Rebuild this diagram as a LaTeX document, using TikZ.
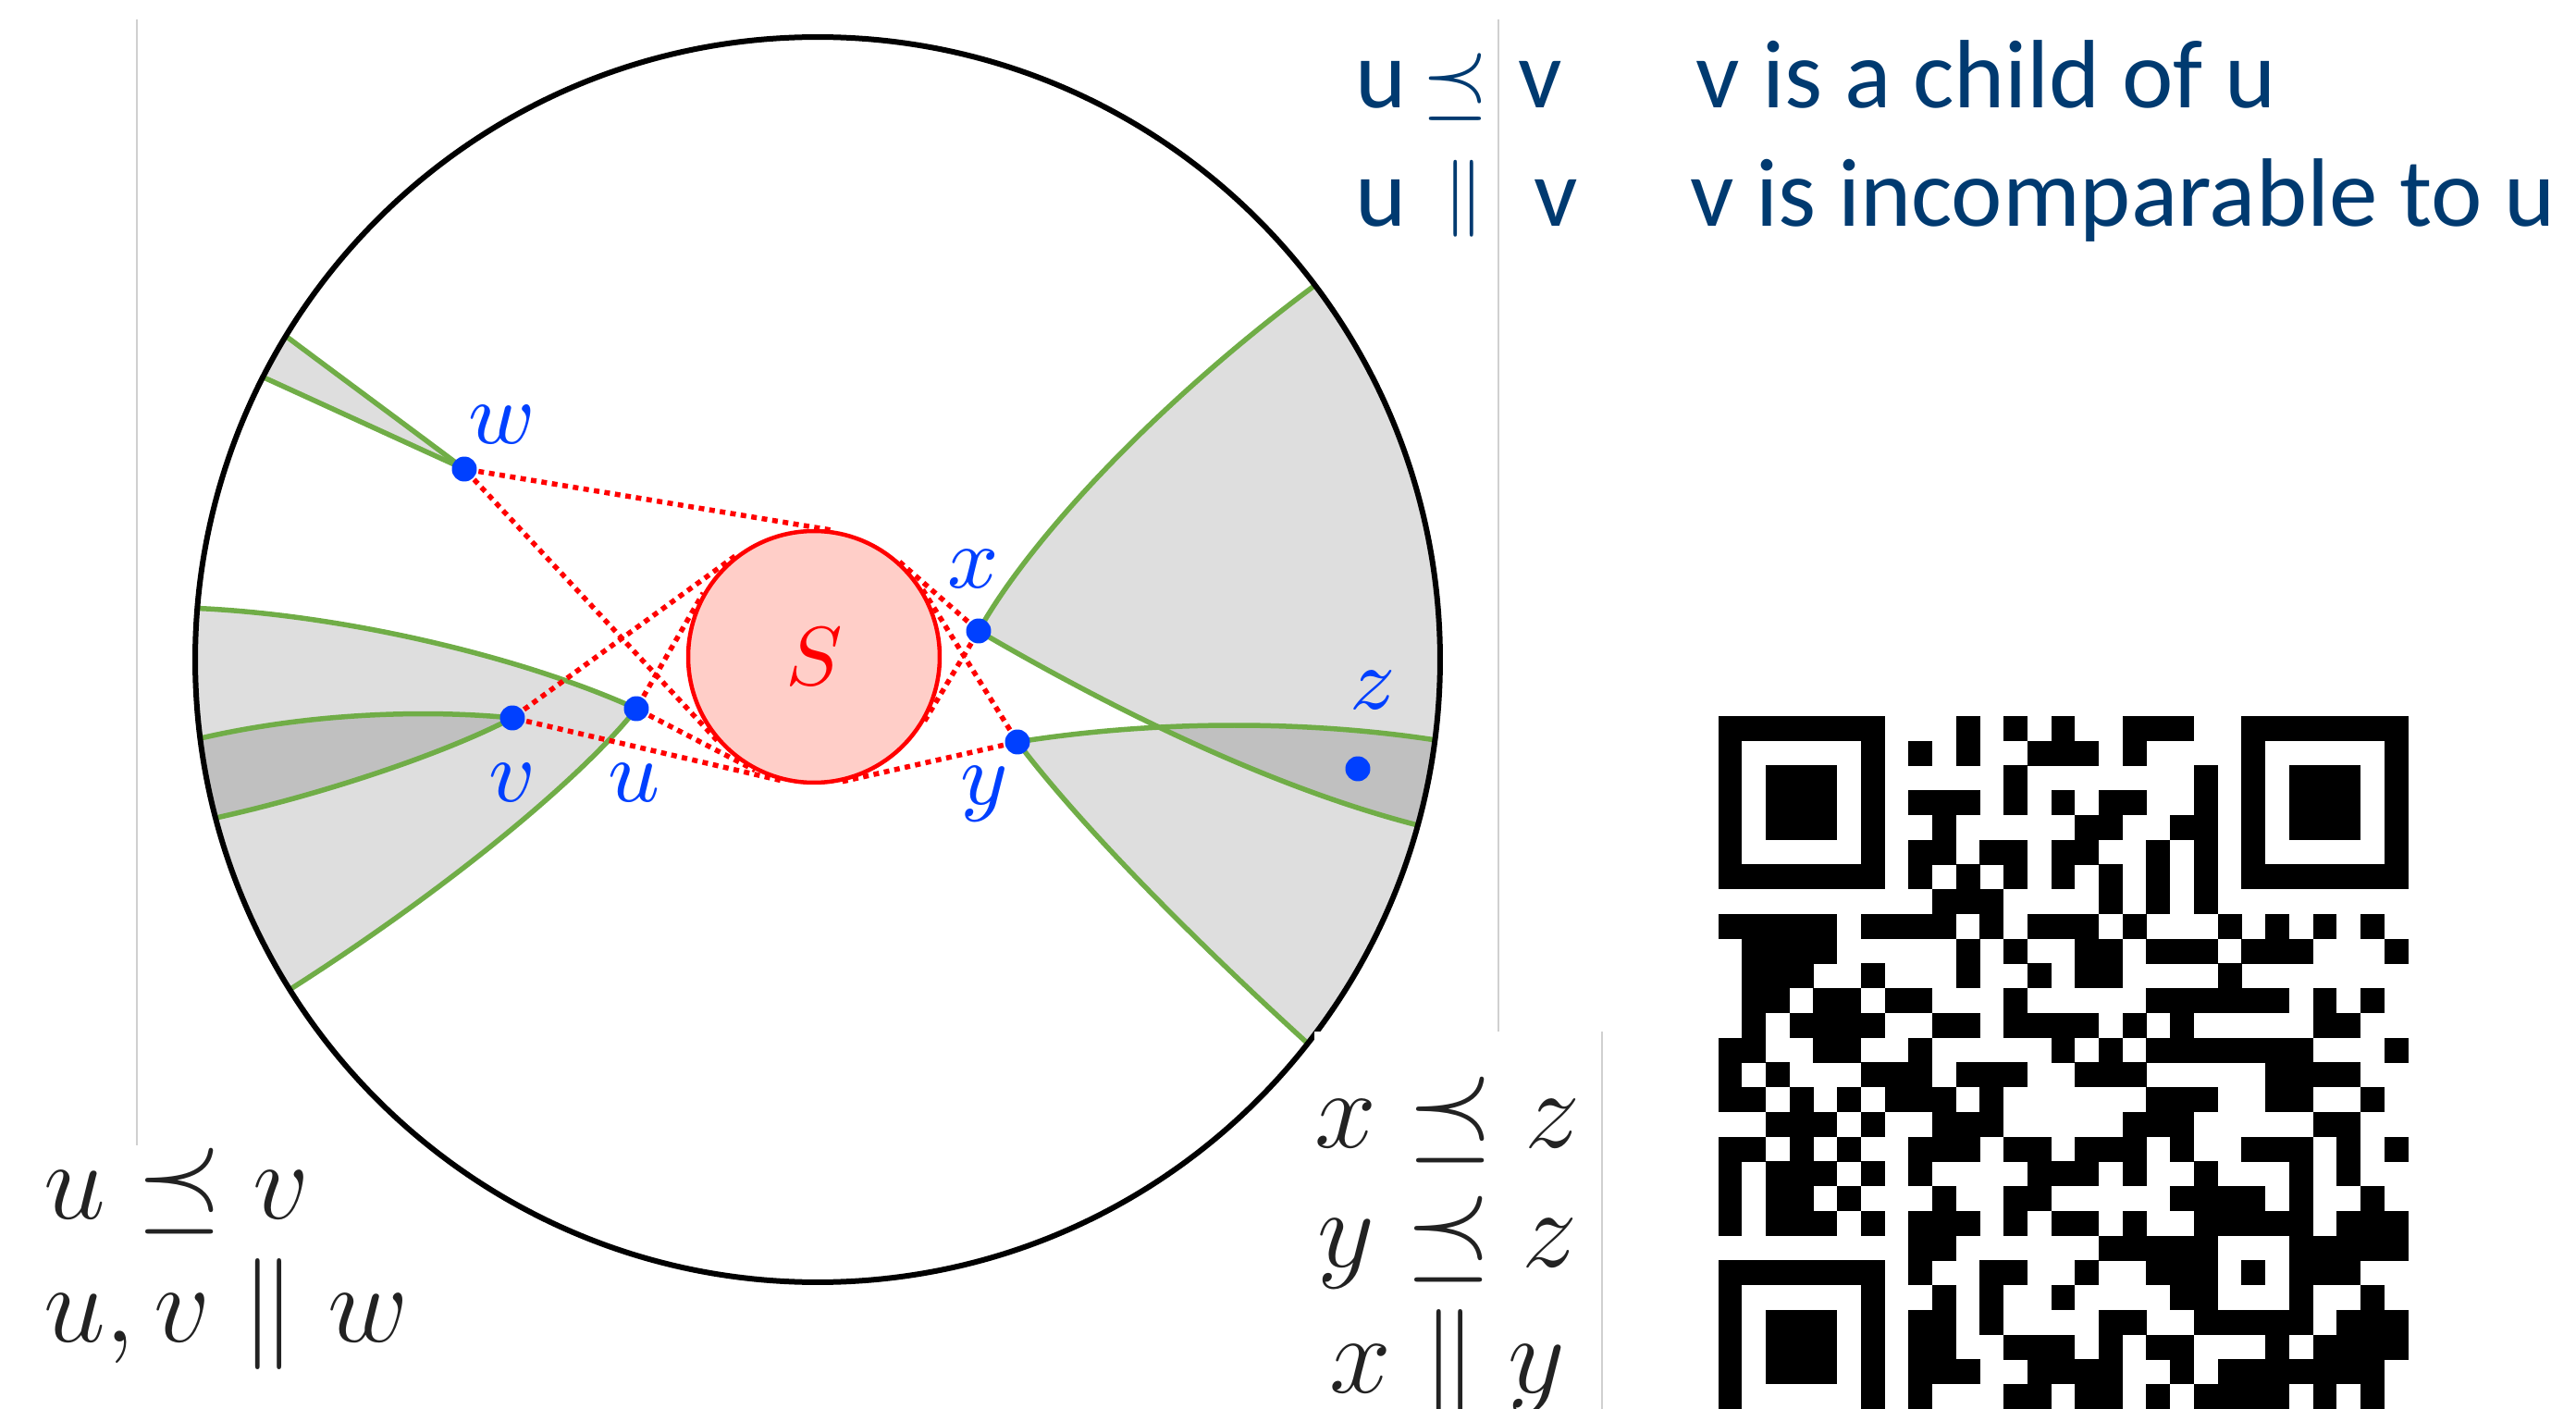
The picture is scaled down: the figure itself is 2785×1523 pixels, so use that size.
\documentclass[tikz,border=0pt]{standalone}
\usepackage{fix-cm}
\usepackage{fontspec}
\newfontfamily\calibrifont{Carlito}
\usepackage{tikz}
\usetikzlibrary{calc}
\definecolor{diskgreen}{RGB}{112,173,71}
\definecolor{bandlight}{RGB}{222,222,222}
\definecolor{banddark}{RGB}{192,192,192}
\definecolor{spink}{RGB}{255,206,200}
\definecolor{sred}{RGB}{255,0,0}
\definecolor{ptblue}{RGB}{0,64,255}
\definecolor{notenavy}{RGB}{0,58,112}
\definecolor{notegray}{RGB}{34,34,34}
\definecolor{edgegray}{RGB}{208,208,208}

\begin{document}
\begin{tikzpicture}[x=0.1pt,y=-0.1pt,
  band/.style={fill=bandlight},
  core/.style={fill=banddark},
  ray/.style={diskgreen,line width=0.55pt},
  ptdot/.style={circle,fill=ptblue,inner sep=0pt,minimum size=2.7pt},
  ptlabel/.style={ptblue,inner sep=0pt,font=\fontsize{9.5}{11}\selectfont},
  tanline/.style={sred,line width=0.55pt,dash pattern=on 0.6pt off 0.55pt},
  setS/.style={circle,draw=sred,fill=spink,line width=0.45pt,minimum size=27.2pt,
    inner sep=0pt,text=sred,font=\fontsize{9}{11}\selectfont},
  relnote/.style={notenavy,inner sep=0pt,font=\calibrifont\fontsize{10.5}{12}\selectfont},
  relsym/.style={notenavy,inner sep=0pt},
  mathnote/.style={notegray,inner sep=0pt,font=\fontsize{12}{14}\selectfont},
  slideedge/.style={edgegray,line width=0.15pt}]
  \useasboundingbox (0,0) rectangle (2785,1523);

  \draw[slideedge] (148,21) -- (148,1238);
  \draw[slideedge] (1620,21) -- (1620,1115);

  \coordinate (O) at (884,713);
  \coordinate (pw) at (502,507);
  \coordinate (pu) at (688,766);
  \coordinate (pv) at (554,776);
  \coordinate (px) at (1058,682);
  \coordinate (py) at (1100,802);
  \coordinate (pz) at (1468,831);

  \begin{scope}
    \clip (O) circle [radius=67.3pt];
    \fill[band] (pu) .. controls (560,708) and (360,662) .. (200,657) -- (185,1090)
      -- (300,1078) .. controls (480,965) and (630,840) .. (pu) -- cycle;
    \fill[core] (pv) .. controls (450,766) and (320,772) .. (200,802) -- (215,888)
      .. controls (340,862) and (480,815) .. (pv) -- cycle;
    \fill[band] (pw) .. controls (434,456) and (366,406) .. (298,355) -- (272,402)
      .. controls (349,437) and (425,472) .. (pw) -- cycle;
    \fill[band] (px) .. controls (1115,580) and (1260,425) .. (1440,295) -- (1640,300)
      -- (1640,905) -- (1545,895) .. controls (1380,855) and (1200,765) .. (px) -- cycle;
    \fill[band] (py) .. controls (1250,778) and (1420,778) .. (1565,802) -- (1640,802)
      -- (1640,1200) -- (1425,1138) .. controls (1300,1025) and (1170,895) .. (py) -- cycle;
    \begin{scope}
      \clip (px) .. controls (1115,580) and (1260,425) .. (1440,295) -- (1640,300)
        -- (1640,905) -- (1545,895) .. controls (1380,855) and (1200,765) .. (px) -- cycle;
      \fill[core] (py) .. controls (1250,778) and (1420,778) .. (1565,802) -- (1640,802)
        -- (1640,1200) -- (1425,1138) .. controls (1300,1025) and (1170,895) .. (py) -- cycle;
    \end{scope}
    \draw[ray] (pu) .. controls (560,708) and (360,662) .. (200,657);
    \draw[ray] (pu) .. controls (630,840) and (480,965) .. (300,1078);
    \draw[ray] (pv) .. controls (450,766) and (320,772) .. (200,802);
    \draw[ray] (pv) .. controls (480,815) and (340,862) .. (215,888);
    \draw[ray] (pw) .. controls (434,456) and (366,406) .. (298,355);
    \draw[ray] (pw) .. controls (425,472) and (349,437) .. (272,402);
    \draw[ray] (px) .. controls (1115,580) and (1260,425) .. (1440,295);
    \draw[ray] (px) .. controls (1200,765) and (1380,855) .. (1545,895);
    \draw[ray] (py) .. controls (1250,778) and (1420,778) .. (1565,802);
    \draw[ray] (py) .. controls (1170,895) and (1300,1025) .. (1425,1138);
  \end{scope}
  \draw[line width=0.6pt] (O) circle [radius=67.3pt];

  \node[setS] (S) at (880,710) {$S$};
  \foreach \p in {w,u,v,x,y,z}
    \node[ptdot] (\p) at (p\p) {};
  \foreach \p in {w,u,v,x,y}{
    \draw[tanline] (\p) -- (tangent cs:node=S,point={(\p)},solution=1);
    \draw[tanline] (\p) -- (tangent cs:node=S,point={(\p)},solution=2);
  }
  \node[ptlabel,anchor=base] (lw) at (543,480) {$w$};
  \node[ptlabel,anchor=base] (lv) at (554,867) {$v$};
  \node[ptlabel,anchor=base] (lu) at (686,867) {$u$};
  \node[ptlabel,anchor=base] (lx) at (1052,636) {$x$};
  \node[ptlabel,anchor=base] (ly) at (1064,870) {$y$};
  \node[ptlabel,anchor=base] (lz) at (1484,767) {$z$};

  \fill[white] (1421,1115) rectangle (1732,1530);
  \draw[slideedge] (1732,1115) -- (1732,1523);

  \node[relnote,anchor=base west] (r1u) at (1464,117) {u};
  \node[relsym,anchor=base,font=\fontsize{9}{11}\selectfont] (r1sym) at (1573,117) {$\preceq$};
  \node[relnote,anchor=base west] (r1v) at (1639,117) {v};
  \node[relnote,anchor=base west] (r1txt) at (1832,117) {v is a child of u};
  \node[relnote,anchor=base west] (r2u) at (1464,245) {u};
  \node[relsym,anchor=base,font=\fontsize{8.3}{10}\selectfont] (r2sym) at (1583,235) {$\parallel$};
  \node[relnote,anchor=base west] (r2v) at (1657,245) {v};
  \node[relnote,anchor=base west] (r2txt) at (1825,245) {v is incomparable to u};

  \node[mathnote,anchor=base west] (lrel1) at (45,1318) {$u \preceq v$};
  \node[mathnote,anchor=base west] (lrel2) at (45,1450) {$u, v \parallel w$};
  \node[mathnote,anchor=base] (rrel1) at (1565,1240) {$x \preceq z$};
  \node[mathnote,anchor=base] (rrel2) at (1565,1370) {$y \preceq z$};
  \node[mathnote,anchor=base] (rrel3) at (1565,1505) {$x \parallel y$};

  \foreach \r/\runs in {0/{0/6,10/10,12/12,14/14,17/19,22/28},
      1/{0/0,6/6,8/8,10/10,13/15,17/17,22/22,28/28},
      2/{0/0,2/4,6/6,12/12,20/20,22/22,24/26,28/28},
      3/{0/0,2/4,6/6,8/10,12/12,14/14,16/17,20/20,22/22,24/26,28/28},
      4/{0/0,2/4,6/6,9/9,15/16,19/20,22/22,24/26,28/28},
      5/{0/0,6/6,8/9,11/12,14/15,18/18,20/20,22/22,28/28},
      6/{0/6,8/8,10/10,12/12,14/14,16/16,18/18,20/20,22/28},
      7/{9/11,16/16,18/18,20/20},
      8/{0/4,6/9,11/11,13/15,17/17,21/21,23/23,25/25,27/27},
      9/{1/4,10/10,12/12,15/16,18/20,22/24,28/28},
      10/{1/3,6/6,10/10,13/13,15/16,21/21},
      11/{1/2,4/5,7/8,12/12,18/23,25/25,27/27},
      12/{1/1,3/6,9/10,12/15,17/17,19/19,25/26},
      13/{0/1,4/5,8/8,14/14,16/16,18/24,28/28},
      14/{0/0,2/2,6/8,10/12,15/17,23/26},
      15/{0/1,3/3,5/5,7/9,11/11,18/20,23/24,27/27},
      16/{2/4,6/6,9/11,17/19,25/26},
      17/{0/1,3/3,5/5,8/10,12/13,15/17,19/19,22/24,26/26,28/28},
      18/{0/0,2/4,6/6,8/8,13/15,17/17,20/20,24/24,26/26},
      19/{0/0,2/3,5/5,9/9,12/13,19/22,24/24,27/27},
      20/{0/0,2/4,6/6,8/10,12/12,14/15,17/17,20/24,26/28},
      21/{8/9,16/20,24/28},
      22/{0/6,8/8,11/12,15/15,18/20,22/22,24/26},
      23/{0/0,6/6,9/9,11/11,14/14,19/20,24/24,27/27},
      24/{0/0,2/4,6/6,8/9,11/11,16/17,20/24,26/28},
      25/{0/0,2/4,6/6,8/9,12/14,16/16,18/19,23/23,25/28},
      26/{0/0,2/4,6/6,8/10,13/16,19/19,21/27},
      27/{0/0,6/6,8/8,12/13,15/16,18/18,20/23,25/25,27/27}}
    \foreach \a/\b in \runs
      \fill[black] (1857.5+\a*25.72,774+\r*26.74) rectangle (1857.5+\b*25.72+25.9,774+\r*26.74+27);
\end{tikzpicture}
\end{document}
